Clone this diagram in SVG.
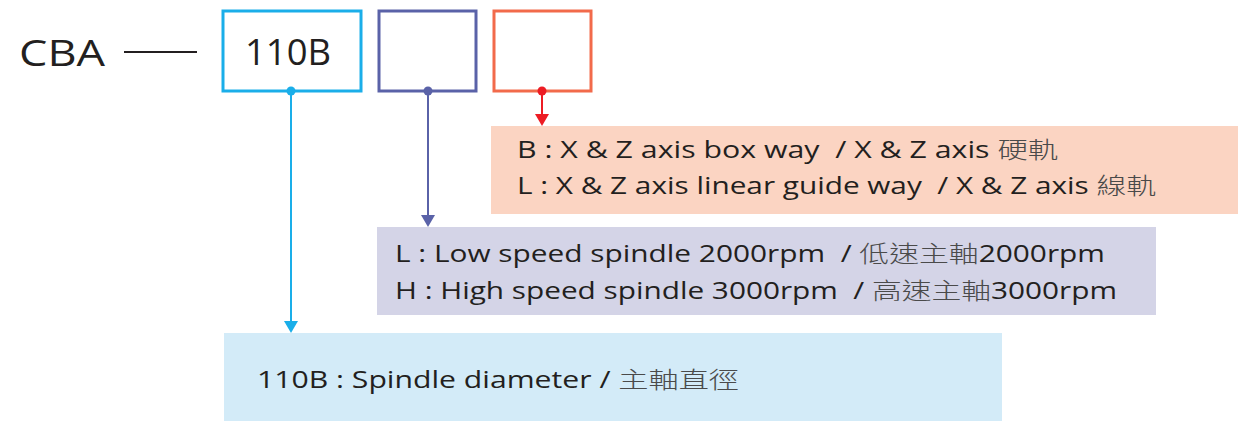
<svg xmlns="http://www.w3.org/2000/svg" width="1239" height="421" viewBox="0 0 1239 421" xml:space="preserve">
<defs>
<style>
.t{font-family:"Open Sans","Lato","Noto Sans CJK TC",sans-serif;fill:#231f20;white-space:pre}
.cj{font-family:"Noto Sans CJK TC",sans-serif;fill:#4a4a4a;font-weight:300}
.code{fill:none;stroke-width:3}
</style>
</defs>
<rect width="1239" height="421" fill="#fff"/>
<g id="desc-rail"><rect x="491" y="126" width="747" height="88" fill="#fbd4c2"/>
<text class="t" x="517" y="158" font-size="23" textLength="541" lengthAdjust="spacingAndGlyphs">B : X &amp; Z axis box way  / X &amp; Z axis <tspan class="cj">硬軌</tspan></text>
<text class="t" x="517" y="194" font-size="23" textLength="639" lengthAdjust="spacingAndGlyphs">L : X &amp; Z axis linear guide way  / X &amp; Z axis <tspan class="cj">線軌</tspan></text></g>
<g id="desc-speed"><rect x="377" y="227" width="779" height="88" fill="#d4d4e7"/>
<text class="t" x="395" y="262" font-size="23" textLength="710" lengthAdjust="spacingAndGlyphs">L : Low speed spindle 2000rpm  / <tspan class="cj">低速主軸</tspan>2000rpm</text>
<text class="t" x="395" y="299" font-size="23" textLength="722" lengthAdjust="spacingAndGlyphs">H : High speed spindle 3000rpm  / <tspan class="cj">高速主軸</tspan>3000rpm</text></g>
<g id="desc-dia"><rect x="224" y="333" width="778" height="88" fill="#d3ebf8"/>
<text class="t" x="257" y="388" font-size="23" textLength="482" lengthAdjust="spacingAndGlyphs">110B : Spindle diameter / <tspan class="cj">主軸直徑</tspan></text></g>
<g id="model">
<text class="t" x="19" y="66" font-size="36" textLength="86" lengthAdjust="spacingAndGlyphs">CBA</text>
<line x1="124" y1="52" x2="197" y2="52" stroke="#231f20" stroke-width="2"/>
</g>
<g id="box-dia"><rect class="code" x="223" y="11" width="138" height="80" stroke="#1aaee9"/>
<text class="t" x="245" y="65" font-size="36" textLength="86" lengthAdjust="spacingAndGlyphs">110B</text></g>
<g id="box-speed"><rect class="code" x="379" y="11" width="97" height="80" stroke="#5a62a8"/></g>
<g id="box-rail"><rect class="code" x="494" y="11" width="97" height="80" stroke="#f26a4b"/></g>
<g id="connectors">
<circle cx="291" cy="91" r="4.5" fill="#1aaee9"/>
<line x1="291" y1="91" x2="291" y2="322" stroke="#1aaee9" stroke-width="2"/>
<path d="M284,321 L298,321 L291,333 z" fill="#1aaee9"/>
<circle cx="428" cy="91" r="4.5" fill="#5a62a8"/>
<line x1="428" y1="91" x2="428" y2="216" stroke="#5a62a8" stroke-width="2"/>
<path d="M421,215 L435,215 L428,227 z" fill="#5a62a8"/>
<circle cx="542" cy="91" r="4.5" fill="#ed1c24"/>
<line x1="542" y1="91" x2="542" y2="115" stroke="#ed1c24" stroke-width="2"/>
<path d="M535,114 L549,114 L542,126 z" fill="#ed1c24"/>
</g>
</svg>
